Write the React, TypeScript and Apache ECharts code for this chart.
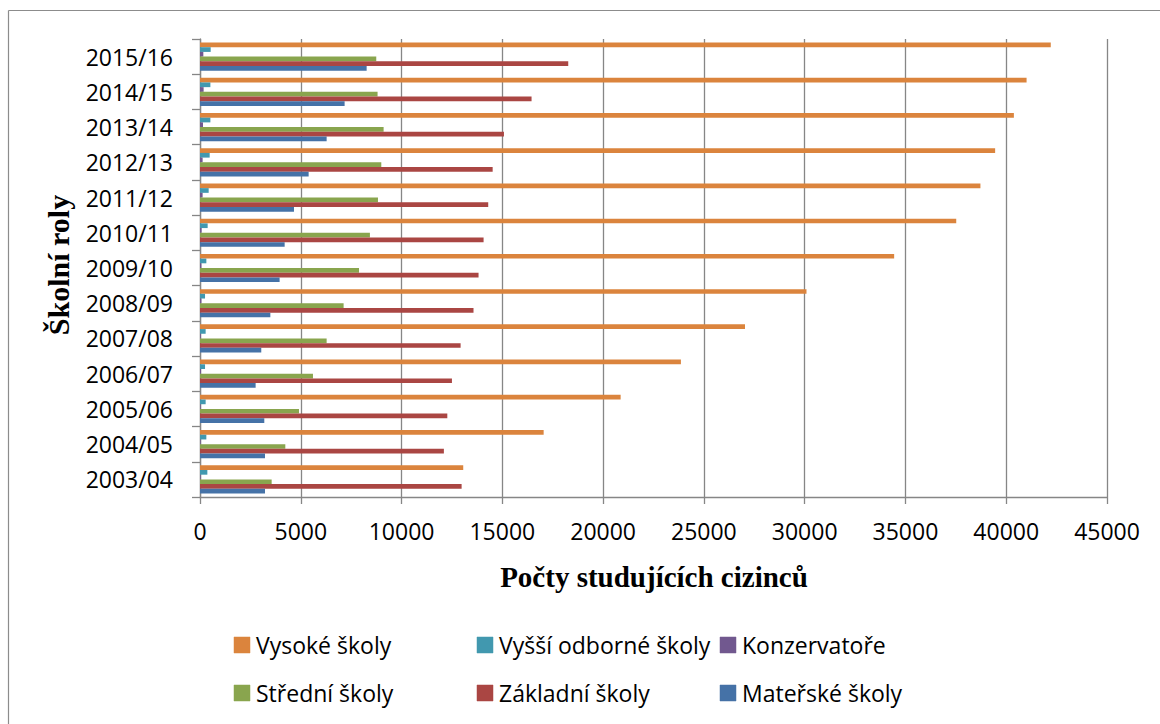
import React, { useEffect, useRef } from "react";
import * as echarts from "echarts";

const categories = [
  "2003/04", "2004/05", "2005/06", "2006/07", "2007/08", "2008/09", "2009/10",
  "2010/11", "2011/12", "2012/13", "2013/14", "2014/15", "2015/16",
];
const xTicks = [0, 5000, 10000, 15000, 20000, 25000, 30000, 35000, 40000, 45000];

const vysoke = [13060, 17050, 20870, 23860, 27040, 30090, 34440, 37520, 38720, 39450, 40380, 41010, 42210];
const vyssiOdborne = [365, 315, 280, 250, 280, 250, 315, 380, 430, 480, 515, 515, 530];
const konzervatore = [30, 30, 30, 50, 40, 70, 70, 80, 130, 130, 150, 180, 165];
const stredni = [3555, 4233, 4911, 5605, 6283, 7125, 7890, 8430, 8830, 8995, 9110, 8810, 8745];
const zakladni = [12980, 12100, 12270, 12500, 12930, 13570, 13820, 14070, 14300, 14520, 15080, 16450, 18270];
const materske = [3225, 3225, 3190, 2760, 3040, 3490, 3950, 4200, 4663, 5390, 6283, 7175, 8268];

const seriesNames = [
  "Vysoké školy",
  "Vyšší odborné školy",
  "Konzervatoře",
  "Střední školy",
  "Základní školy",
  "Mateřské školy",
];
const seriesData = [vysoke, vyssiOdborne, konzervatore, stredni, zakladni, materske];
const colors = ["#DB843D", "#4198AF", "#71588F", "#89A54E", "#AA4643", "#4572A7"];

const xTitle = "Počty studujících cizinců";
const yTitle = "Školní roly";

const legendPos = [
  { x: 234, y: 645 },
  { x: 477, y: 645 },
  { x: 720, y: 645 },
  { x: 234, y: 693 },
  { x: 477, y: 693 },
  { x: 720, y: 693 },
];

export default function App() {
  const ref = useRef<HTMLDivElement>(null);
  useEffect(() => {
    if (!ref.current) return;
    const chart = echarts.init(ref.current, null, { renderer: "svg" });
    const sans = "'Open Sans', sans-serif";
    const serif = "'Liberation Serif', 'Times New Roman', serif";
    const legendGraphics: any[] = [];
    seriesNames.forEach((n, i) => {
      const p = legendPos[i];
      legendGraphics.push({
        type: "polygon",
        shape: {
          points: [
            [p.x, p.y - 8],
            [p.x + 16, p.y - 8],
            [p.x + 16, p.y + 8],
            [p.x, p.y + 8],
          ],
        },
        style: { fill: colors[i], stroke: colors[i], lineWidth: 0.5 },
      });
      legendGraphics.push({
        type: "text",
        x: p.x + 22,
        y: p.y,
        style: {
          text: n,
          font: `23px ${sans}`,
          fill: "#000",
          textAlign: "left",
          textVerticalAlign: "middle",
        },
      });
    });
    chart.setOption({
      animation: false,
      backgroundColor: "#ffffff",
      grid: { left: 200, right: 53, top: 39, bottom: 227, containLabel: false },
      xAxis: {
        type: "value",
        min: xTicks[0],
        max: xTicks[xTicks.length - 1],
        interval: xTicks[1] - xTicks[0],
        axisLine: { show: true, lineStyle: { color: "#868686", width: 1.3 } },
        axisTick: { show: true, length: 7, lineStyle: { color: "#868686", width: 1.3 } },
        splitLine: { show: true, lineStyle: { color: "#868686", width: 1.3 } },
        axisLabel: {
          color: "#000",
          fontSize: 23,
          fontFamily: sans,
          margin: 22,
          formatter: (v: number) => String(v),
        },
      },
      yAxis: {
        type: "category",
        data: categories,
        axisLine: { show: true, lineStyle: { color: "#868686", width: 1.3 } },
        axisTick: { show: true, length: 8, lineStyle: { color: "#868686", width: 1.3 } },
        axisLabel: { color: "#000", fontSize: 23, fontFamily: sans, margin: 27 },
        splitLine: { show: false },
      },
      series: seriesNames.map((n, i) => ({
        name: n,
        type: "bar",
        data: seriesData[i],
        barGap: "0%",
        barCategoryGap: "20%",
        itemStyle: { color: colors[i] },
      })),
      graphic: [
        {
          type: "line",
          shape: { x1: 8.5, y1: 10.5, x2: 1160, y2: 10.5 },
          style: { stroke: "#8c8c8c", lineWidth: 1.2 },
        },
        {
          type: "line",
          shape: { x1: 8.5, y1: 10.5, x2: 8.5, y2: 724 },
          style: { stroke: "#8c8c8c", lineWidth: 1.2 },
        },
        {
          type: "text",
          x: 654,
          y: 577,
          style: {
            text: xTitle,
            font: `bold 29px ${serif}`,
            fill: "#000",
            textAlign: "center",
            textVerticalAlign: "middle",
          },
        },
        {
          type: "text",
          x: 58,
          y: 265,
          rotation: Math.PI / 2,
          style: {
            text: yTitle,
            font: `bold 30px ${serif}`,
            fill: "#000",
            textAlign: "center",
            textVerticalAlign: "middle",
          },
        },
        ...legendGraphics,
      ],
    });
    return () => chart.dispose();
  }, []);
  return (
    <div
      ref={ref}
      style={{ position: "absolute", left: 0, top: 0, width: 1160, height: 724 }}
    />
  );
}
